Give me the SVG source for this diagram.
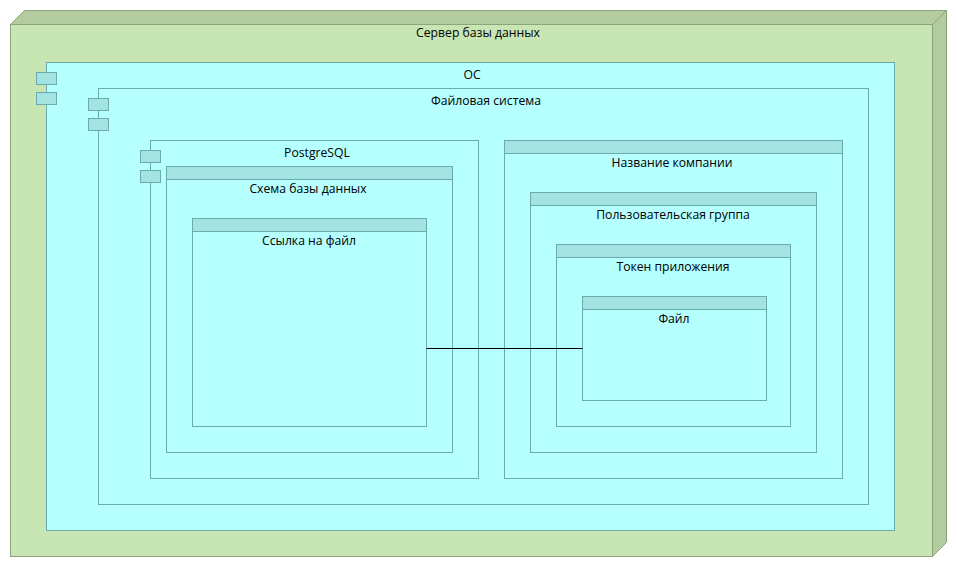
<svg xmlns="http://www.w3.org/2000/svg" width="957" height="567" viewBox="0 0 957 567">
<style>
.n{stroke:#8da37c;stroke-width:1}
.b{fill:#b5ffff;stroke:#6cabab;stroke-width:1}
.h{fill:#a3e3e1;stroke:#6cabab;stroke-width:1}
text{font-family:"Open Sans",sans-serif;font-size:12.2px;fill:#000;text-anchor:middle}
</style>
<rect width="957" height="567" fill="#fff"/>
<g id="server">
<path class="n" fill="#b3cc9f" d="M10.5 24.5L24.5 10.5H946.5V542.5L932.5 556.5Z"/>
<path class="n" fill="none" d="M932.5 24.5L946.5 10.5"/>
<rect class="n" fill="#c8e6b3" x="10.5" y="24.5" width="922" height="532"/>
<text x="478" y="37">Сервер базы данных</text>
</g>
<g id="os">
<rect class="b" x="46.5" y="62.5" width="848" height="468"/>
<rect class="h" x="36.5" y="72.5" width="20" height="12"/>
<rect class="h" x="36.5" y="92.5" width="20" height="12"/>
<text x="472" y="79">ОС</text>
</g>
<g id="fs">
<rect class="b" x="98.5" y="88.5" width="770" height="416"/>
<rect class="h" x="88.5" y="98.5" width="20" height="12"/>
<rect class="h" x="88.5" y="118.5" width="20" height="12"/>
<text x="486" y="105">Файловая система</text>
</g>
<g id="postgresql">
<rect class="b" x="150.5" y="140.5" width="328" height="338"/>
<rect class="h" x="140.5" y="150.5" width="20" height="12"/>
<rect class="h" x="140.5" y="170.5" width="20" height="12"/>
<text x="317" y="157">PostgreSQL</text>
</g>
<g id="schema">
<rect class="b" x="166.5" y="166.5" width="286" height="286"/>
<rect class="h" x="166.5" y="166.5" width="286" height="13"/>
<text x="308" y="193">Схема базы данных</text>
</g>
<g id="fileref">
<rect class="b" x="192.5" y="218.5" width="234" height="208"/>
<rect class="h" x="192.5" y="218.5" width="234" height="13"/>
<text x="309" y="245">Ссылка на файл</text>
</g>
<g id="company">
<rect class="b" x="504.5" y="140.5" width="338" height="338"/>
<rect class="h" x="504.5" y="140.5" width="338" height="13"/>
<text x="672" y="167">Название компании</text>
</g>
<g id="usergroup">
<rect class="b" x="530.5" y="192.5" width="286" height="260"/>
<rect class="h" x="530.5" y="192.5" width="286" height="13"/>
<text x="673" y="219">Пользовательская группа</text>
</g>
<g id="token">
<rect class="b" x="556.5" y="244.5" width="234" height="182"/>
<rect class="h" x="556.5" y="244.5" width="234" height="13"/>
<text x="673" y="271">Токен приложения</text>
</g>
<g id="file">
<rect class="b" x="582.5" y="296.5" width="184" height="104"/>
<rect class="h" x="582.5" y="296.5" width="184" height="13"/>
<text x="674" y="323">Файл</text>
</g>
<g id="connectors">
<path d="M426.5 348.5H582.5" fill="none" stroke="#000" stroke-width="1"/>
</g>
</svg>
